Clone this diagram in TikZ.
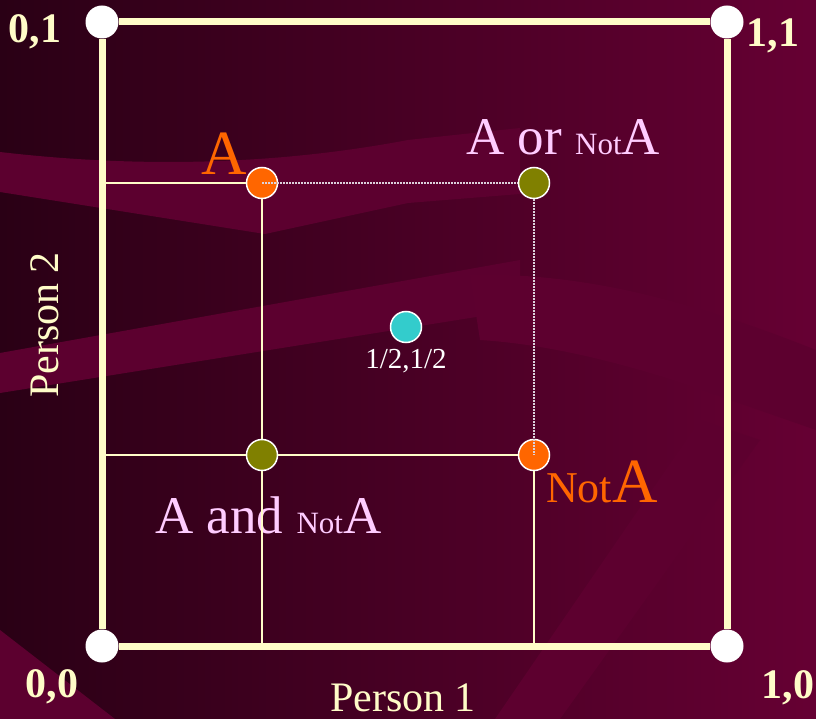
\documentclass[tikz,border=0pt]{standalone}
\usepackage{fontspec}
\setmainfont{Liberation Serif}
\usetikzlibrary{positioning}
\definecolor{bgdark}{HTML}{2A0015}
\definecolor{bgmid}{HTML}{54002B}
\definecolor{bgwine}{HTML}{660033}
\definecolor{bandwine}{HTML}{5C002F}
\definecolor{shadewine}{HTML}{5D002F}
\definecolor{cream}{HTML}{FFFCC8}
\definecolor{pinklabel}{HTML}{FFCCFF}
\definecolor{guidegray}{HTML}{DCD2DC}
\definecolor{dotorange}{HTML}{FF6600}
\definecolor{dotolive}{HTML}{808000}
\definecolor{dotcyan}{HTML}{33CCCC}

% font sizes, in pt (one picture unit is one pt)
\newcommand{\bigfont}{\fontsize{53}{60}\selectfont}
\newcommand{\hugefont}{\fontsize{63}{70}\selectfont}
\newcommand{\notsmall}[1]{{\fontsize{31}{36}\selectfont #1}}
\newcommand{\notmid}[1]{{\fontsize{44}{50}\selectfont #1}}

\tikzset{
  corner/.style={circle,fill=white,minimum size=33pt,inner sep=0pt},
  outcome/.style={circle,draw=white,line width=1.5pt,minimum size=31pt,inner sep=0pt},
  axisline/.style={cream,line width=7pt},
  gridline/.style={cream,line width=2.5pt},
  guide/.style={guidegray,line width=1.5pt,dash pattern=on 1.5pt off 1.5pt},
  cornerlabel/.style={cream,font=\fontsize{42}{46}\selectfont\bfseries,inner sep=0pt,anchor=base},
  axislabel/.style={cream,font=\fontsize{42}{46}\selectfont,inner sep=0pt,anchor=base},
  caselabel/.style={pinklabel,font=\bigfont,inner sep=0pt,anchor=base west},
  purelabel/.style={dotorange,font=\hugefont,inner sep=0pt},
}

\begin{document}
\begin{tikzpicture}[x=1pt,y=-1pt]
% backdrop
\fill[left color=bgdark,middle color=bgmid,right color=bgwine] (0,0) rectangle (816,719);
\fill[bandwine] (0,152) .. controls (120,166) and (260,168) .. (408,140) -- (520,128)
  -- (520,194) -- (408,203) -- (265,234) -- (0,192) -- cycle;
\fill[bandwine] (0,353) -- (520,260) -- (520,310) -- (0,393) -- cycle;
\fill[bandwine] (0,630) -- (115,719) -- (0,719) -- cycle;
\fill[shadewine] (470,275) .. controls (580,272) and (690,300) .. (816,350) -- (816,430)
  -- (730,400) .. controls (650,370) and (560,345) .. (480,340) -- cycle;
\fill[shadewine] (700,420) -- (760,440) -- (560,719) -- (495,719) -- cycle;

% corners of the unit square
\node[corner] (c01) at (102,22) {};
\node[corner] (c11) at (727,22) {};
\node[corner] (c00) at (102,646) {};
\node[corner] (c10) at (727,646) {};

% outcomes
\node[outcome,fill=dotorange] (A) at (262,183) {};
\node[outcome,fill=dotolive] (Or) at (534,183) {};
\node[outcome,fill=dotolive] (And) at (262,455) {};
\node[outcome,fill=dotorange] (NotA) at (534,455) {};
\node[outcome,fill=dotcyan] (Half) at (406,327) {};

% labels
\node[cornerlabel] (l01) at (35,43) {0,1};
\node[cornerlabel] (l11) at (773,47) {1,1};
\node[cornerlabel] (l00) at (52,697) {0,0};
\node[cornerlabel] (l10) at (788,698) {1,0};
\node[axislabel] (p1) at (403,711) {Person 1};
\node[axislabel,rotate=90] (p2) at (58,325) {Person 2};
\node[purelabel,anchor=base] (tA) at (224,175) {A};
\node[purelabel,anchor=base west] (tNotA) at (546,502) {\notmid{Not}A};
\node[caselabel] (tOr) at (466,155) {A or \notsmall{Not}A};
\node[caselabel] (tAnd) at (155,533) {A and \notsmall{Not}A};
\node[white,font=\fontsize{29}{32}\selectfont,inner sep=0pt,anchor=base] (tHalf) at (406,368) {1/2,1/2};

% the square
\draw[axisline] (c00) -- (c10);
\draw[axisline] (c10) -- (c11);
\draw[axisline] (c11) -- (c01);
\draw[axisline] (c01) -- (c00);

% grid through the outcomes
\draw[gridline] (c01 |- A) -- (A);
\draw[gridline] (A) -- (And);
\draw[gridline] (And) -- (And |- c00);
\draw[gridline] (c01 |- And) -- (And);
\draw[gridline] (And) -- (NotA);
\draw[gridline] (NotA) -- (NotA |- c00);
\draw[guide] (A.center) -- (Or);
\draw[guide] (Or) -- (NotA.center);
\end{tikzpicture}
\end{document}
